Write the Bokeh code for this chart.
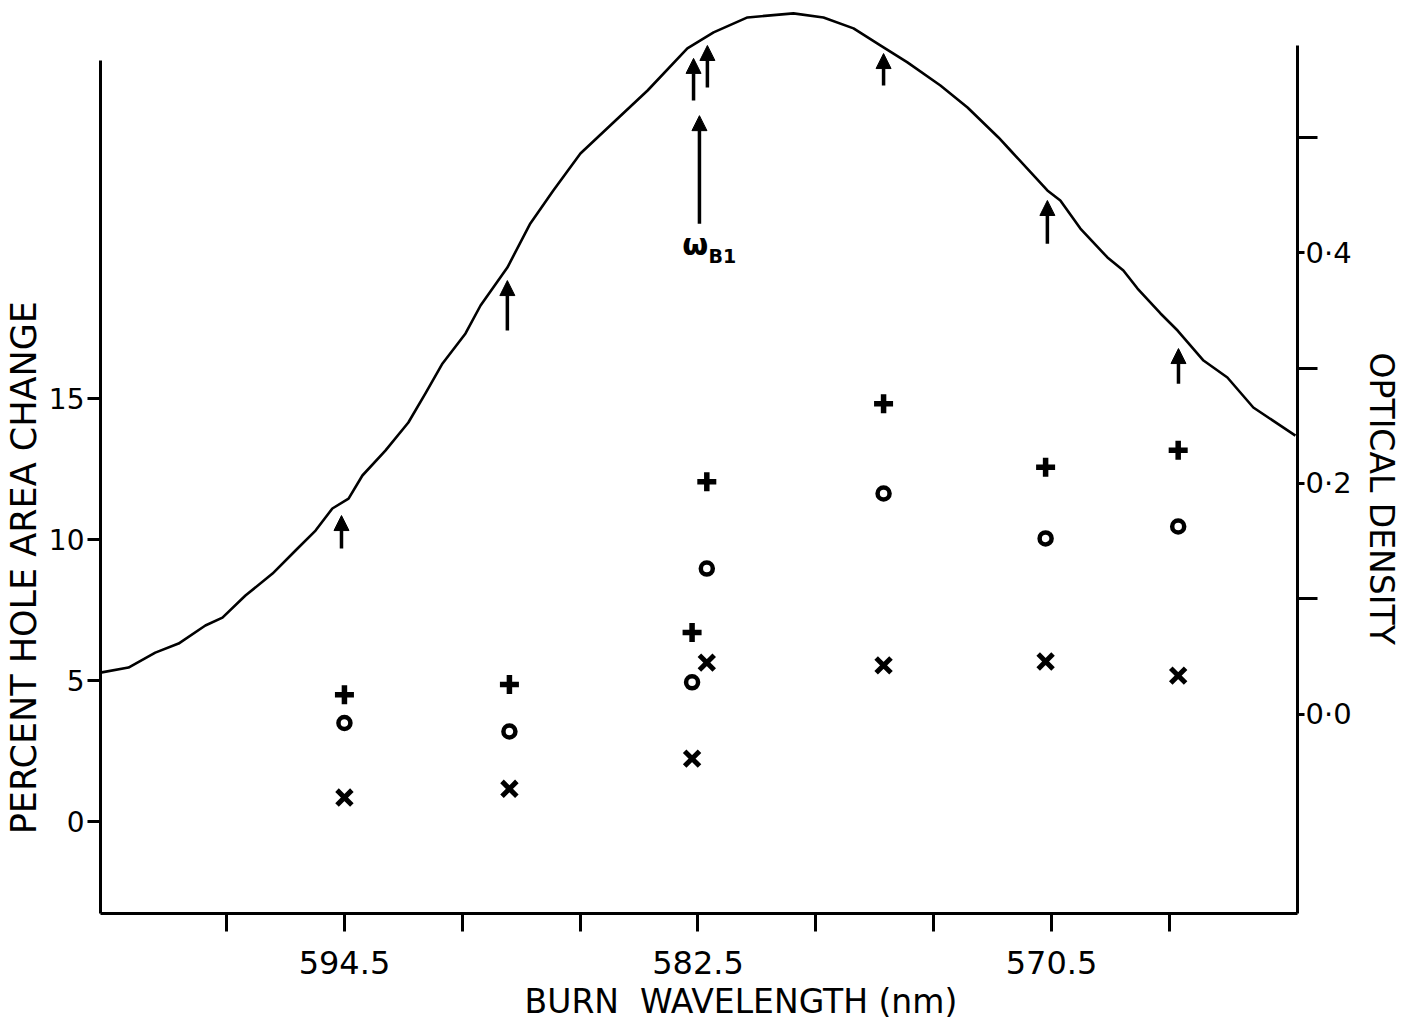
from bokeh.plotting import figure
from bokeh.models import (Range1d, LinearAxis, FixedTicker, Arrow, NormalHead,
                          ColumnDataSource, Label)
from bokeh.embed import file_html
from bokeh.resources import INLINE

# ---------------- data ----------------
# absorption (optical density) curve: wavelength (nm) and OD
curve_wl = [602.78, 601.83, 600.92, 600.13, 599.22, 598.64, 597.86, 596.94, 596.16,
            595.48, 594.91, 594.36, 593.89, 593.11, 592.33, 591.75, 591.17, 590.39,
            589.88, 588.97, 588.19, 587.41, 586.49, 585.37, 584.21, 582.86, 581.97,
            580.82, 579.26, 578.24, 577.22, 576.31, 575.39, 574.27, 573.35, 572.30,
            571.89, 570.64, 570.20, 569.52, 568.60, 568.06, 567.58, 566.80, 566.22,
            565.34, 564.53, 563.65, 562.22]
curve_od = [0.0361, 0.0405, 0.0534, 0.0613, 0.0769, 0.0838, 0.1029, 0.1219, 0.1419,
            0.1592, 0.1783, 0.1869, 0.2069, 0.2285, 0.2528, 0.2780, 0.3040, 0.3300,
            0.3542, 0.3871, 0.4253, 0.4539, 0.4859, 0.5127, 0.5405, 0.5769, 0.5908,
            0.6038, 0.6073, 0.6038, 0.5943, 0.5795, 0.5648, 0.5448, 0.5258, 0.4998,
            0.4885, 0.4539, 0.4452, 0.4209, 0.3958, 0.3845, 0.3689, 0.3473, 0.3325,
            0.3065, 0.2918, 0.2658, 0.2415]

# burn wavelengths and percent hole area change for the three series
burn_wl = [594.5, 588.9, 582.7, 582.2, 576.2, 570.7, 566.2]
plus_vals = [4.50, 4.86, 6.71, 12.05, 14.81, 12.56, 13.16]
circle_vals = [3.50, 3.20, 4.94, 8.97, 11.63, 10.04, 10.46]
cross_vals = [0.86, 1.17, 2.24, 5.64, 5.54, 5.68, 5.18]

# arrows marking burn positions (in optical density units)
arrow_wl = [594.6, 588.97, 582.65, 582.18, 576.2, 570.64, 566.19]
arrow_tail_od = [0.1437, 0.3325, 0.5318, 0.5431, 0.5448, 0.4077, 0.2865]
arrow_tip_od = [0.1722, 0.3758, 0.5683, 0.5795, 0.5725, 0.4452, 0.3169]

# the long arrow labelled omega_B1
wb1_wl = [582.45]
wb1_tail_od = [0.4251]
wb1_tip_od = [0.5187]

# axes
x_ticks = [598.5, 594.5, 590.5, 586.5, 582.5, 578.5, 574.5, 570.5, 566.5]
x_tick_labels = ["", "594.5", "", "", "582.5", "", "", "570.5", ""]
left_ticks = [0, 5, 10, 15]
od_major_ticks = [0.0, 0.2, 0.4]
od_major_labels = ["0·0", "0·2", "0·4"]
od_minor_ticks = [0.1, 0.3, 0.5]

NB = "\u00a0"
x_title = "BURN" + NB + " WAVELENGTH (nm)"
left_title = "PERCENT HOLE AREA CHANGE"
right_title = "OPTICAL DENSITY"

FONT = "DejaVu Sans"

# ---------------- figure ----------------
X_START, X_END = 602.78, 562.15
Y_START, Y_END = -3.248, 28.74
p = figure(width=1414, height=1031, output_backend="svg", toolbar_location=None,
           x_range=Range1d(X_START, X_END), y_range=Range1d(Y_START, Y_END))
p.extra_y_ranges = {"od": Range1d(-0.1726, 0.6098)}
p.min_border_left = 100
p.min_border_right = 117
p.min_border_top = 10
p.min_border_bottom = 118
p.outline_line_color = None
p.grid.visible = False
p.background_fill_color = "white"
p.border_fill_color = "white"

def style_axis(ax, label_size):
    ax.axis_line_width = 3
    ax.axis_line_color = "black"
    ax.major_tick_line_width = 3
    ax.major_tick_line_color = "black"
    ax.minor_tick_line_width = 3
    ax.minor_tick_line_color = "black"
    ax.major_tick_in = 0
    ax.minor_tick_in = 0
    ax.major_label_text_font = FONT
    ax.major_label_text_font_size = label_size
    ax.major_label_text_color = "black"
    ax.axis_label_text_font = FONT
    ax.axis_label_text_font_style = "normal"
    ax.axis_label_text_color = "black"

# bottom axis (title shifted right as in the original with leading spaces)
xa = p.xaxis[0]
style_axis(xa, "32px")
xa.ticker = FixedTicker(ticks=x_ticks, minor_ticks=[])
xa.major_label_overrides = {t: l for t, l in zip(x_ticks, x_tick_labels)}
xa.major_tick_out = 18
xa.minor_tick_out = 0
xa.major_label_standoff = 19
xa.axis_label = NB * 8 + x_title
xa.axis_label_text_font_size = "33px"
xa.axis_label_standoff = 5

# left axis (title shifted down as in the original)
ya = p.yaxis[0]
style_axis(ya, "28px")
ya.ticker = FixedTicker(ticks=left_ticks, minor_ticks=[])
ya.bounds = (Y_START, 26.97)
ya.major_tick_out = 13
ya.minor_tick_out = 0
ya.major_label_standoff = 3
ya.axis_label = left_title + NB * 19
ya.axis_label_text_font_size = "35px"
ya.axis_label_standoff = 2

# right axis (optical density)
ra = LinearAxis(y_range_name="od",
                ticker=FixedTicker(ticks=od_major_ticks, minor_ticks=od_minor_ticks))
style_axis(ra, "29px")
ra.bounds = (-0.1726, 0.5795)
ra.major_tick_out = 7
ra.minor_tick_out = 20
ra.major_label_standoff = -12
ra.major_label_overrides = {t: l for t, l in zip(od_major_ticks, od_major_labels)}
ra.axis_label = NB * 7 + right_title
ra.axis_label_text_font_size = "33px"
ra.axis_label_standoff = 7
p.add_layout(ra, "right")

# ---------------- glyphs ----------------
p.line(curve_wl, curve_od, y_range_name="od", line_width=2.6, line_color="black",
       line_join="round")

p.scatter(burn_wl, plus_vals, marker="cross", size=19, line_width=5.5,
          line_color="black")
p.scatter(burn_wl, circle_vals, marker="circle", size=12, line_width=4.5,
          line_color="black", fill_color=None)
p.scatter(burn_wl, cross_vals, marker="x", size=21, line_width=5,
          line_color="black")

arrow_src = ColumnDataSource(dict(x=arrow_wl, y0=arrow_tail_od, y1=arrow_tip_od))
p.add_layout(Arrow(source=arrow_src, x_start="x", y_start="y0", x_end="x", y_end="y1",
                   y_range_name="od", line_width=3.5, line_color="black",
                   end=NormalHead(size=15, fill_color="black", line_color="black",
                                  line_width=1)))
wb1_src = ColumnDataSource(dict(x=wb1_wl, y0=wb1_tail_od, y1=wb1_tip_od))
p.add_layout(Arrow(source=wb1_src, x_start="x", y_start="y0", x_end="x", y_end="y1",
                   y_range_name="od", line_width=3.5, line_color="black",
                   end=NormalHead(size=15, fill_color="black", line_color="black",
                                  line_width=1)))

# omega_B1 label under the long arrow
p.add_layout(Label(x=582.59, y=0.4071, y_range_name="od", text="ω", text_font=FONT,
                   text_font_size="30px", text_font_style="bold",
                   text_align="center", text_baseline="middle", text_color="black"))
p.add_layout(Label(x=582.14, y=0.3967, y_range_name="od", text="B1", text_font=FONT,
                   text_font_size="19px", text_font_style="bold",
                   text_align="left", text_baseline="middle", text_color="black"))

open("out.html", "w").write(file_html(p, INLINE))
